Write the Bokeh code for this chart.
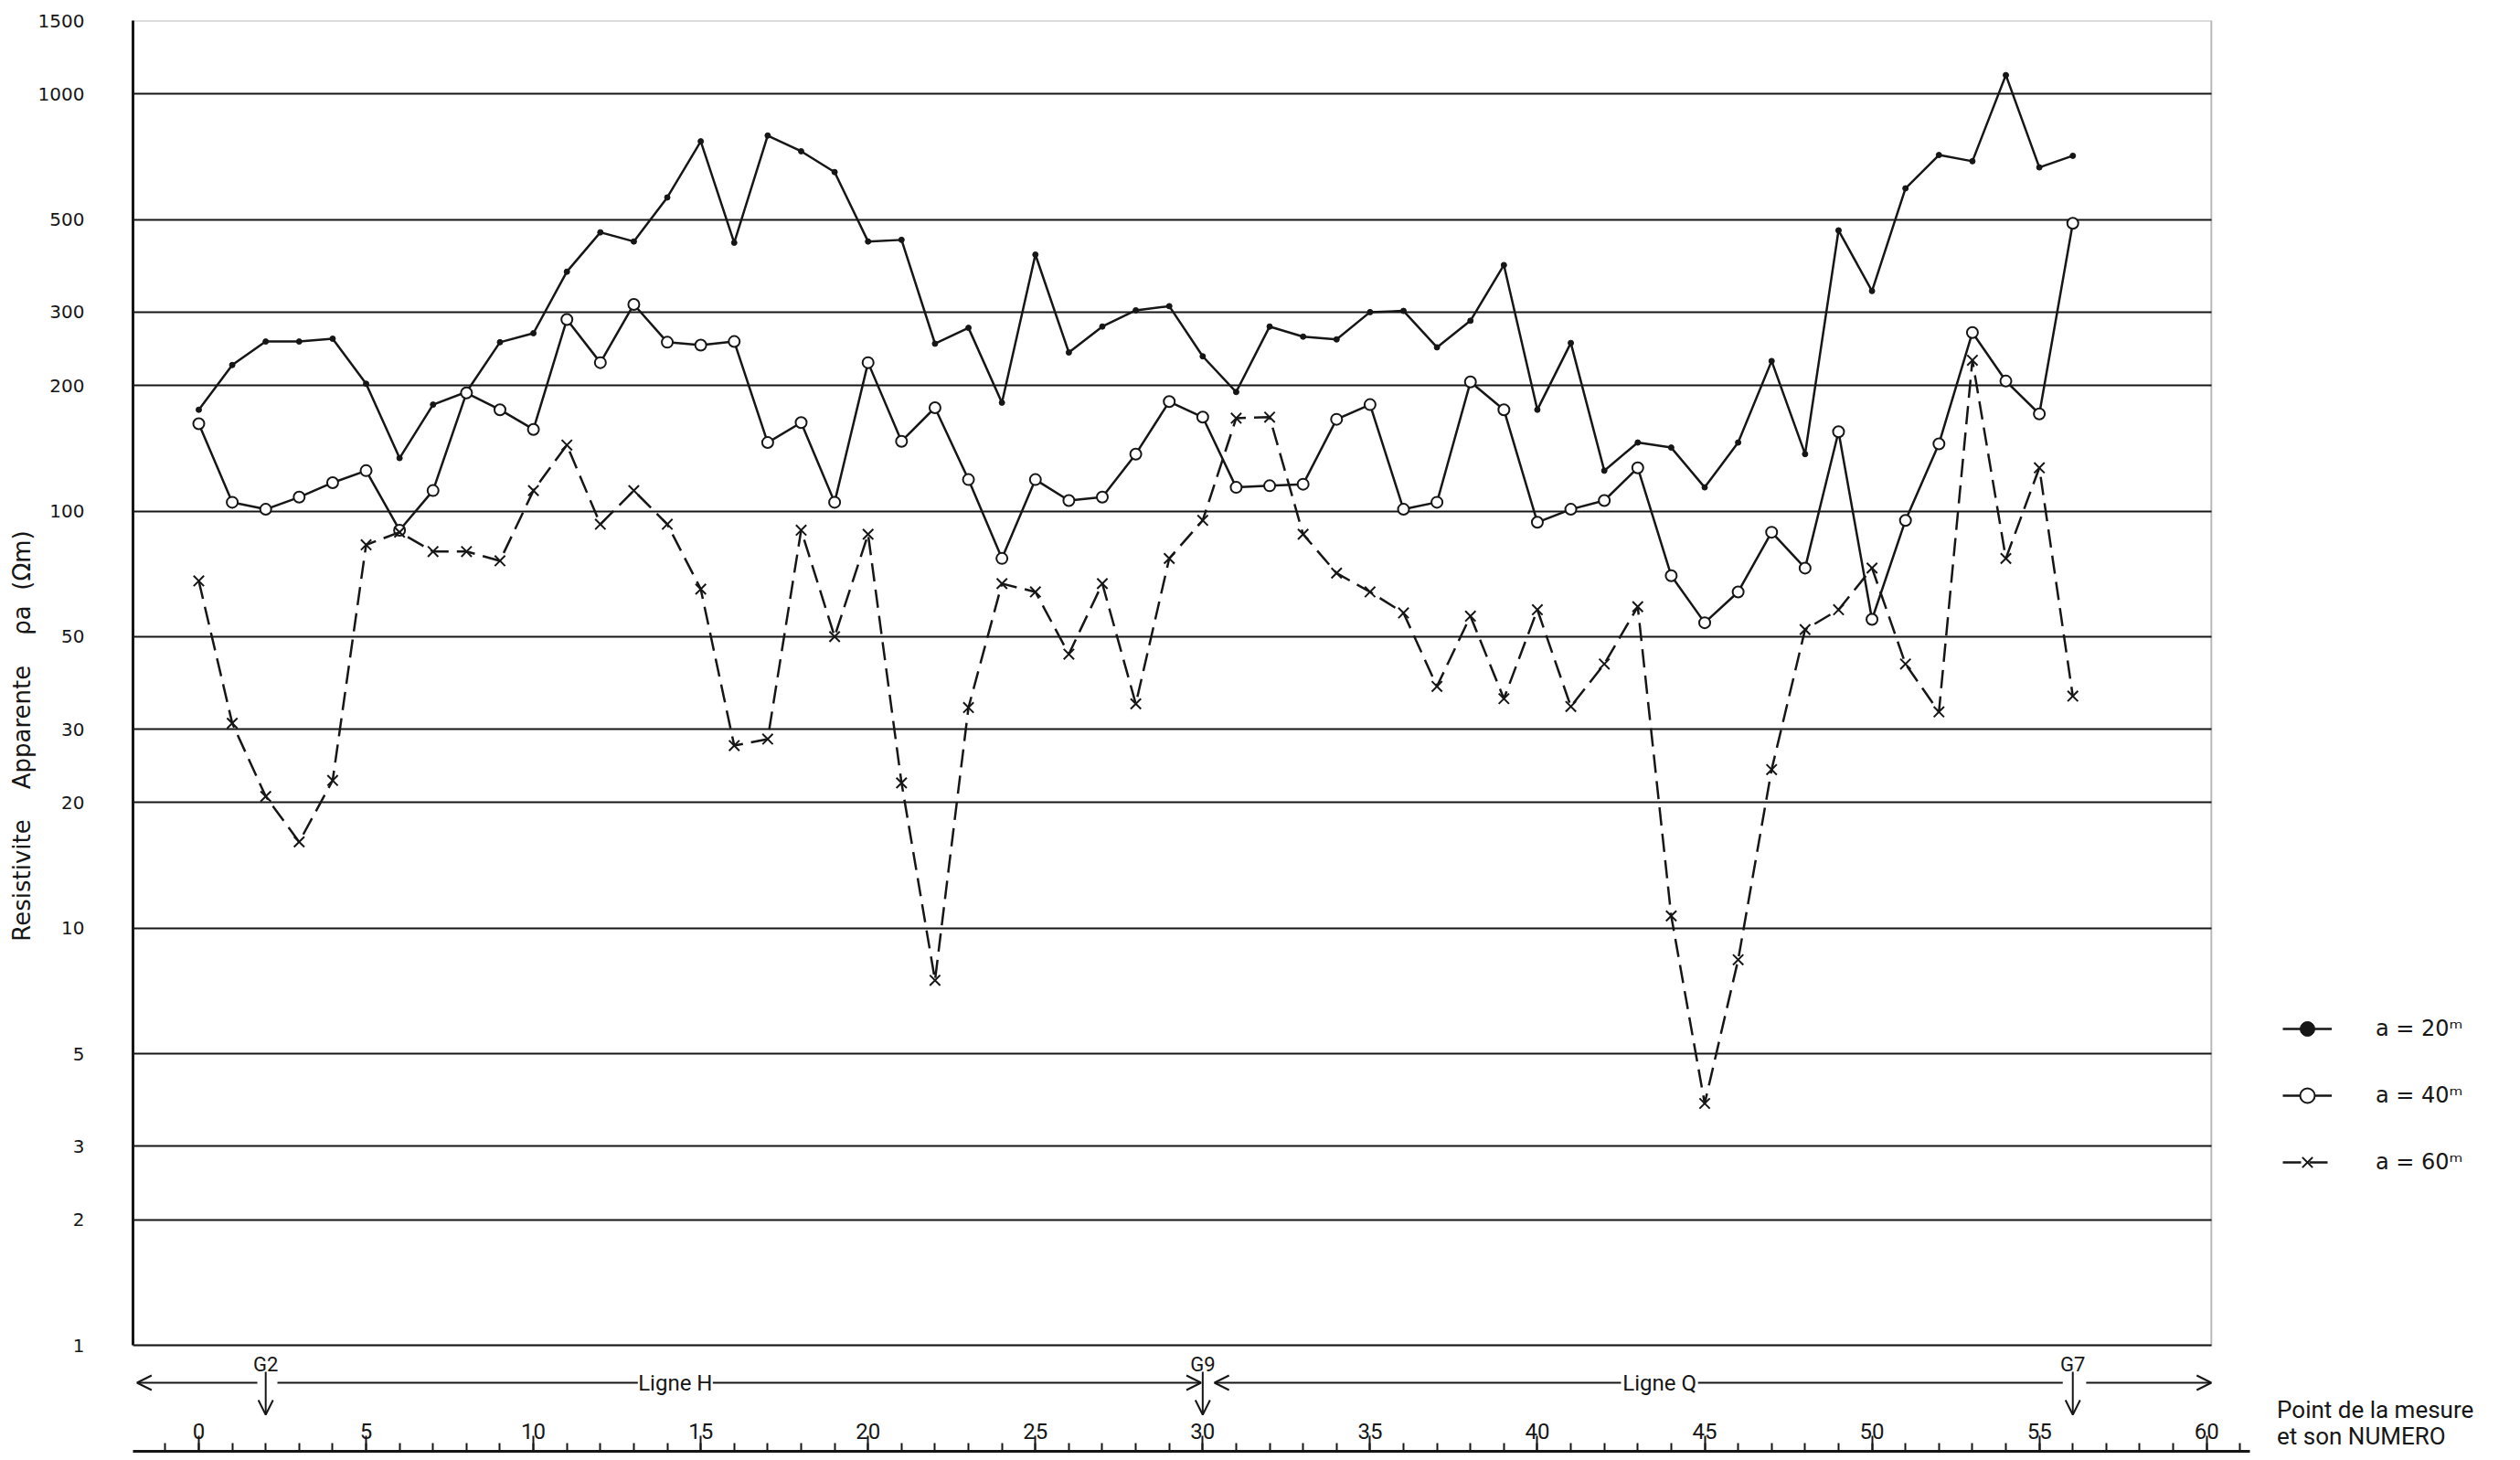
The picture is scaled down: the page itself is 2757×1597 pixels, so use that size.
import math
from bokeh.plotting import figure
from bokeh.models import (Range1d, FixedTicker, PrintfTickFormatter, Legend, LegendItem,
                          Arrow, OpenHead, SingleIntervalTicker, LinearAxis, BoxAnnotation,
                          LinearScale)
from bokeh.embed import file_html
from bokeh.resources import INLINE
from bokeh.core.properties import value

# ---------------- data ----------------
points = list(range(57))
rho_a20 = [175, 224, 255, 255, 259, 202, 134, 180, 193, 254,
           267, 375, 466, 443, 565, 770, 440, 795, 729, 650,
           443, 447, 252, 275, 182, 412, 240, 277, 303, 310,
           235, 193, 277, 262, 258, 300, 302, 247, 286, 389,
           175, 253, 125, 146, 142, 114, 146, 229, 137, 471,
           337, 594, 714, 690, 1110, 667, 711]
rho_a40 = [162, 105, 101, 108, 117, 125, 90, 112, 192, 175,
           157, 288, 227, 313, 254, 250, 255, 146, 163, 105,
           227, 147, 177, 119, 77, 119, 106, 108, 137, 183,
           168, 114, 115, 116, 166, 180, 101, 105, 204, 175,
           94, 101, 106, 127, 70, 54, 64, 89, 73, 155,
           55, 95, 145, 268, 205, 171, 490]
rho_a60 = [68, 31, 20.7, 16.1, 22.6, 83, 89, 80, 80, 76,
           112, 144, 93, 112, 93, 65, 27.4, 28.4, 90, 50,
           88, 22.3, 7.5, 33.8, 67, 64, 45.4, 67, 34.5, 77,
           95, 167, 168, 88, 71, 64, 57, 38, 56, 35.5,
           58, 34, 43, 59, 10.7, 3.8, 8.4, 24, 52, 58,
           73, 43, 33, 230, 77, 127, 36]
series_labels = ["a = 20ᵐ", "a = 40ᵐ", "a = 60ᵐ"]
y_ticks = [1, 2, 3, 5, 10, 20, 30, 50, 100, 200, 300, 500, 1000, 1500]
gauge_names = ["G2", "G9", "G7"]
gauge_points = [2, 30, 56]
line_names = ["Ligne H", "Ligne Q"]
line_label_points = [14.24, 43.65]
ruler_caption = ["Point de la mesure", "et son NUMERO"]

# ---------------- layout constants (pixels / axis extents) ----------------
W, H = 2741, 1589
FRAME_LEFT, FRAME_TOP, BOX_BOTTOM, FRAME_BOTTOM = 145, 22, 1471, 1587
x_lo, x_frame_hi = -1.966, 68.94          # frame spans the legend column too
x_box_hi, ruler_hi = 60.14, 61.29
y_top = 1500
decade = (BOX_BOTTOM - FRAME_TOP) / math.log10(y_top)
y_lo = 10 ** (-(FRAME_BOTTOM - BOX_BOTTOM) / decade)
strip_h = FRAME_BOTTOM - FRAME_TOP

INK = "#161616"
COND = "Roboto"

p = figure(width=W, height=H, x_range=Range1d(x_lo, x_frame_hi), y_range=Range1d(y_lo, y_top),
           y_axis_type="log", x_axis_location=None, output_backend="svg", toolbar_location=None,
           min_border_left=FRAME_LEFT, min_border_right=0, min_border_top=FRAME_TOP,
           min_border_bottom=H - FRAME_BOTTOM)
p.extra_y_ranges = {"strip": Range1d(0, strip_h)}
p.extra_y_scales = {"strip": LinearScale()}
p.background_fill_color = "white"
p.border_fill_color = "white"
p.outline_line_color = None
p.xgrid.visible = False

# horizontal grid lines limited to the chart box
grid_ok = True
try:
    p.ygrid.cross_bounds = (x_lo, x_box_hi)
except Exception:
    grid_ok = False
p.ygrid.ticker = FixedTicker(ticks=y_ticks)
p.ygrid.grid_line_color = INK
p.ygrid.grid_line_width = 2
if not grid_ok:
    p.ygrid.visible = False
    p.segment(x0=[x_lo] * len(y_ticks), y0=y_ticks, x1=[x_box_hi] * len(y_ticks), y1=y_ticks,
              line_color=INK, line_width=2)

# chart box
p.add_layout(BoxAnnotation(left=x_lo, right=x_box_hi, bottom=1, top=y_top,
                           fill_alpha=0, line_color=INK, line_width=2, level="underlay"))

ax = p.yaxis[0]
ax.bounds = (1, y_top)
ax.ticker = FixedTicker(ticks=y_ticks, minor_ticks=[])
ax.formatter = PrintfTickFormatter(format="%d")
ax.major_tick_out = 0
ax.major_tick_in = 0
ax.minor_tick_out = 0
ax.minor_tick_in = 0
ax.axis_line_width = 3
ax.axis_line_color = INK
ax.major_label_text_font = "DejaVu Sans"
ax.major_label_text_font_size = "20px"
ax.major_label_text_color = INK
ax.major_label_text_align = "center"
ax.major_label_standoff = 53
sp = "\u00a0"
ax.axis_label = ("Resistivite" + sp * 4 + "Apparente" + sp * 4 + "ρa" + sp * 2 + "(Ωm)")
ax.axis_label_text_font = "DejaVu Sans"
ax.axis_label_text_font_style = "normal"
ax.axis_label_text_font_size = "26px"
ax.axis_label_text_color = INK
ax.axis_label_standoff = 0

# ---------------- series ----------------
l20 = p.line(points, rho_a20, line_color=INK, line_width=2.5)
s20 = p.scatter(points, rho_a20, marker="circle", size=6, fill_color=INK, line_color=INK)
l40 = p.line(points, rho_a40, line_color=INK, line_width=2.5)
s40 = p.scatter(points, rho_a40, marker="circle", size=12, fill_color="white",
                line_color=INK, line_width=2)
l60 = p.line(points, rho_a60, line_color=INK, line_width=2.5, line_dash="20 9")
s60 = p.scatter(points, rho_a60, marker="x", size=16, line_color=INK, line_width=2)

legend = Legend(items=[LegendItem(label=series_labels[0], renderers=[l20, s20]),
                       LegendItem(label=series_labels[1], renderers=[l40, s40]),
                       LegendItem(label=series_labels[2], renderers=[l60, s60])],
                location=(2352, 296), glyph_width=54, glyph_height=40, label_standoff=48,
                spacing=33, padding=0, margin=0, border_line_color=None,
                background_fill_alpha=0, label_text_font="DejaVu Sans",
                label_text_font_size="24px", label_text_color=INK)
p.add_layout(legend)

# ---------------- ruler (point numbers) ----------------
rx = LinearAxis(bounds=(x_lo, ruler_hi), ticker=SingleIntervalTicker(interval=5, num_minor_ticks=5))
rx.major_tick_in = 17
rx.major_tick_out = 0
rx.minor_tick_in = 9
rx.minor_tick_out = 0
rx.major_tick_line_width = 2
rx.minor_tick_line_width = 2
rx.major_tick_line_color = INK
rx.minor_tick_line_color = INK
rx.axis_line_width = 3
rx.axis_line_color = INK
rx.major_label_standoff = -31
rx.major_label_text_baseline = "middle"
rx.major_label_text_font = COND
rx.major_label_text_font_size = "24px"
rx.major_label_text_color = INK
p.add_layout(rx, "below")

ARROW_Y, GLAB_Y, GTOP_Y, GTIP_Y = 75, 95, 87, 40
CAP_Y = [46, 17]
head = dict(size=16, line_width=2, line_color=INK)
g0, g1, g2 = gauge_points
h, q = line_label_points
segments = [  # (start, end, with head)
    (g0 - 0.25, x_lo + 0.12, True),
    (g0 + 0.35, h - 1.12, False),
    (h + 1.12, g1 - 0.05, True),
    (q - 1.15, g1 + 0.35, True),
    (q + 1.15, g2 - 0.3, False),
    (g2 + 0.4, x_box_hi, True),
]
for xs, xe, hd in segments:
    p.add_layout(Arrow(x_start=xs, y_start=ARROW_Y, x_end=xe, y_end=ARROW_Y,
                       end=OpenHead(**head) if hd else None, y_range_name="strip",
                       line_width=2, line_color=INK))
for g in gauge_points:
    p.add_layout(Arrow(x_start=g, y_start=GTOP_Y, x_end=g, y_end=GTIP_Y, y_range_name="strip",
                       end=OpenHead(**head), line_width=2, line_color=INK))

p.text(x=gauge_points, y=[GLAB_Y] * 3, text=gauge_names, y_range_name="strip",
       text_font=value(COND), text_font_size="22px", text_align="center",
       text_baseline="middle", text_color=INK)
p.text(x=line_label_points, y=[ARROW_Y] * 2, text=line_names, y_range_name="strip",
       text_font=value(COND), text_font_size="24px", text_align="center",
       text_baseline="middle", text_color=INK)
p.text(x=[62.1, 62.1], y=CAP_Y, text=ruler_caption, y_range_name="strip",
       text_font=value(COND), text_font_size="26px", text_align="left",
       text_baseline="middle", text_color=INK)

open("out.html", "w").write(file_html(p, INLINE))
